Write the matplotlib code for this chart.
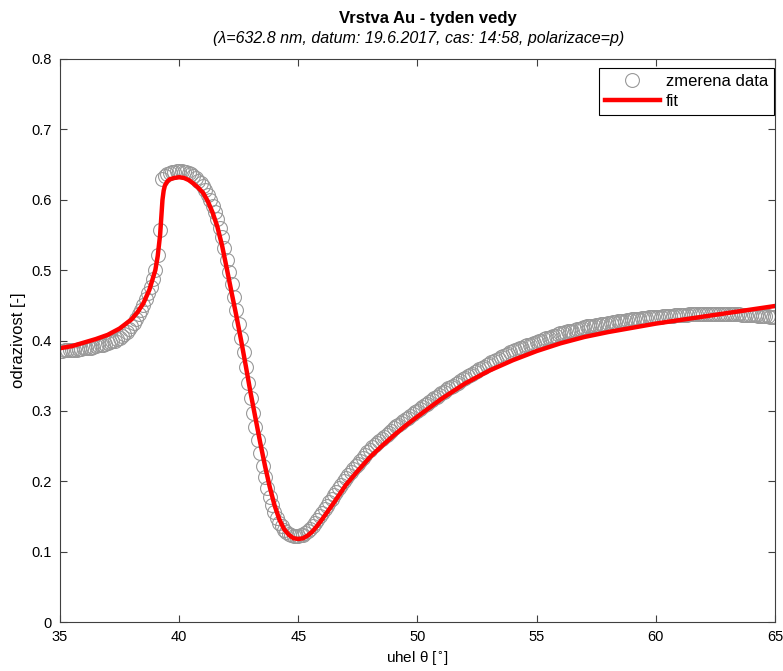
import matplotlib
matplotlib.use("Agg")
import matplotlib.pyplot as plt

plt.rcParams["font.family"] = ["Liberation Sans", "DejaVu Sans"]

# measured data, angle step 0.1 deg from 35.0 to 65.0
meas_angle_start = 35.0
meas_angle_step = 0.1
meas_values = [
    0.385, 0.385, 0.386, 0.386, 0.386, 0.387, 0.387, 0.387, 0.388, 0.388,
    0.389, 0.389, 0.390, 0.390, 0.391, 0.392, 0.393, 0.393, 0.394, 0.395,
    0.397, 0.398, 0.399, 0.400, 0.402, 0.404, 0.406, 0.409, 0.412, 0.416,
    0.420, 0.425, 0.431, 0.437, 0.444, 0.451, 0.459, 0.467, 0.476, 0.487,
    0.500, 0.522, 0.557, 0.630, 0.634, 0.636, 0.638, 0.639, 0.640, 0.641,
    0.641, 0.641, 0.640, 0.640, 0.638, 0.636, 0.634, 0.631, 0.627, 0.624,
    0.620, 0.614, 0.607, 0.599, 0.591, 0.582, 0.572, 0.560, 0.547, 0.532,
    0.515, 0.498, 0.480, 0.462, 0.443, 0.424, 0.404, 0.383, 0.362, 0.340,
    0.318, 0.297, 0.277, 0.258, 0.240, 0.222, 0.206, 0.191, 0.178, 0.166,
    0.156, 0.148, 0.141, 0.136, 0.131, 0.128, 0.125, 0.123, 0.122, 0.122,
    0.122, 0.123, 0.124, 0.126, 0.129, 0.132, 0.136, 0.140, 0.145, 0.150,
    0.155, 0.160, 0.165, 0.170, 0.175, 0.180, 0.185, 0.190, 0.195, 0.200,
    0.205, 0.209, 0.213, 0.217, 0.221, 0.225, 0.229, 0.233, 0.237, 0.241,
    0.245, 0.248, 0.251, 0.254, 0.257, 0.260, 0.263, 0.266, 0.269, 0.272,
    0.275, 0.278, 0.280, 0.283, 0.285, 0.288, 0.290, 0.293, 0.295, 0.298,
    0.300, 0.303, 0.305, 0.308, 0.310, 0.313, 0.315, 0.318, 0.320, 0.323,
    0.325, 0.327, 0.329, 0.332, 0.334, 0.336, 0.338, 0.340, 0.343, 0.345,
    0.347, 0.349, 0.351, 0.353, 0.355, 0.357, 0.359, 0.361, 0.363, 0.365,
    0.367, 0.369, 0.371, 0.373, 0.374, 0.376, 0.378, 0.380, 0.381, 0.383,
    0.385, 0.386, 0.388, 0.389, 0.390, 0.392, 0.393, 0.394, 0.395, 0.397,
    0.398, 0.399, 0.400, 0.402, 0.403, 0.404, 0.405, 0.406, 0.407, 0.409,
    0.410, 0.411, 0.412, 0.413, 0.414, 0.414, 0.415, 0.416, 0.417, 0.418,
    0.419, 0.420, 0.420, 0.421, 0.421, 0.422, 0.422, 0.423, 0.423, 0.424,
    0.425, 0.425, 0.426, 0.426, 0.427, 0.427, 0.428, 0.428, 0.429, 0.429,
    0.430, 0.430, 0.431, 0.431, 0.432, 0.432, 0.432, 0.433, 0.433, 0.434,
    0.434, 0.434, 0.434, 0.435, 0.435, 0.435, 0.435, 0.435, 0.436, 0.436,
    0.436, 0.436, 0.436, 0.436, 0.437, 0.437, 0.437, 0.437, 0.437, 0.437,
    0.437, 0.437, 0.437, 0.437, 0.437, 0.437, 0.437, 0.437, 0.437, 0.437,
    0.437, 0.437, 0.437, 0.437, 0.437, 0.437, 0.436, 0.436, 0.436, 0.436,
    0.436, 0.436, 0.436, 0.435, 0.435, 0.435, 0.435, 0.435, 0.434, 0.434,
    0.434,
]
meas_angles = [round(meas_angle_start + i * meas_angle_step, 1) for i in range(len(meas_values))]

# fitted curve
fit_angles = [
    35.0, 35.5, 36.0, 36.5, 37.0, 37.5, 38.0, 38.25, 38.5, 38.75,
    39.0, 39.1, 39.2, 39.25, 39.3, 39.35, 39.4, 39.5, 39.6, 39.8,
    40.0, 40.2, 40.4, 40.6, 40.8, 41.0, 41.2, 41.4, 41.6, 41.8,
    42.0, 42.2, 42.4, 42.6, 42.8, 43.0, 43.2, 43.4, 43.6, 43.8,
    44.0, 44.2, 44.4, 44.6, 44.8, 45.0, 45.2, 45.4, 45.6, 45.8,
    46.0, 46.5, 47.0, 47.5, 48.0, 48.5, 49.0, 49.5, 50.0, 51.0,
    52.0, 53.0, 54.0, 55.0, 56.0, 57.0, 58.0, 59.0, 60.0, 61.0,
    62.0, 63.0, 64.0, 65.0,
]
fit_values = [
    0.389, 0.392, 0.397, 0.402, 0.408, 0.417, 0.430, 0.440, 0.453, 0.472,
    0.500, 0.520, 0.550, 0.575, 0.600, 0.613, 0.620, 0.626, 0.629, 0.631,
    0.632, 0.631, 0.628, 0.623, 0.617, 0.610, 0.598, 0.582, 0.562, 0.535,
    0.502, 0.468, 0.435, 0.400, 0.363, 0.325, 0.290, 0.255, 0.222, 0.192,
    0.166, 0.146, 0.132, 0.124, 0.119, 0.118, 0.119, 0.123, 0.129, 0.137,
    0.146, 0.170, 0.195, 0.215, 0.234, 0.250, 0.265, 0.279, 0.292, 0.317,
    0.339, 0.357, 0.372, 0.385, 0.396, 0.405, 0.412, 0.418, 0.424, 0.429,
    0.434, 0.439, 0.444, 0.449,
]

x_ticks = [35, 40, 45, 50, 55, 60, 65]
y_ticks = [0, 0.1, 0.2, 0.3, 0.4, 0.5, 0.6, 0.7, 0.8]

fig = plt.figure(figsize=(7.83, 6.71), dpi=100)
ax = fig.add_axes([60 / 783, 49 / 671, 715 / 783, 563 / 671])

ax.plot(meas_angles, meas_values, linestyle="none", marker="o", markersize=10,
        markerfacecolor="none", markeredgecolor="#999999", markeredgewidth=0.8,
        label="zmerena data")
ax.plot(fit_angles, fit_values, color="#ff0000", linewidth=3.2, label="fit")

ax.set_xlim(35, 65)
ax.set_ylim(0, 0.8)
ax.set_xticks(x_ticks)
ax.set_yticks(y_ticks)
ax.set_yticklabels([f"{v:g}" for v in y_ticks])
ax.tick_params(direction="in", top=True, right=True, length=5, width=0.8,
               color="#404040", labelsize=10.5, pad=6)
for spine in ax.spines.values():
    spine.set_color("#404040")
    spine.set_linewidth(0.8)

ax.set_xlabel(r"uhel θ [$^{\circ}$]", fontsize=11, labelpad=4)
ax.set_ylabel("odrazivost [-]", fontsize=12, labelpad=4)

fig.text(428 / 783, 1 - 18 / 671, "Vrstva Au - tyden vedy", ha="center", va="center",
         fontsize=12, fontweight="bold")
fig.text(419 / 783, 1 - 39 / 671, "(λ=632.8 nm, datum: 19.6.2017, cas: 14:58, polarizace=p)",
         ha="center", va="center", fontsize=11.5, fontstyle="italic")

leg = ax.legend(loc="upper right", bbox_to_anchor=(0.999, 0.984), borderaxespad=0,
                fontsize=12, handlelength=3.3, fancybox=False, framealpha=1,
                edgecolor="black", borderpad=0.35, labelspacing=0.3, handletextpad=0.4)
leg.get_frame().set_linewidth(0.8)

fig.savefig("out.png", dpi=100)
